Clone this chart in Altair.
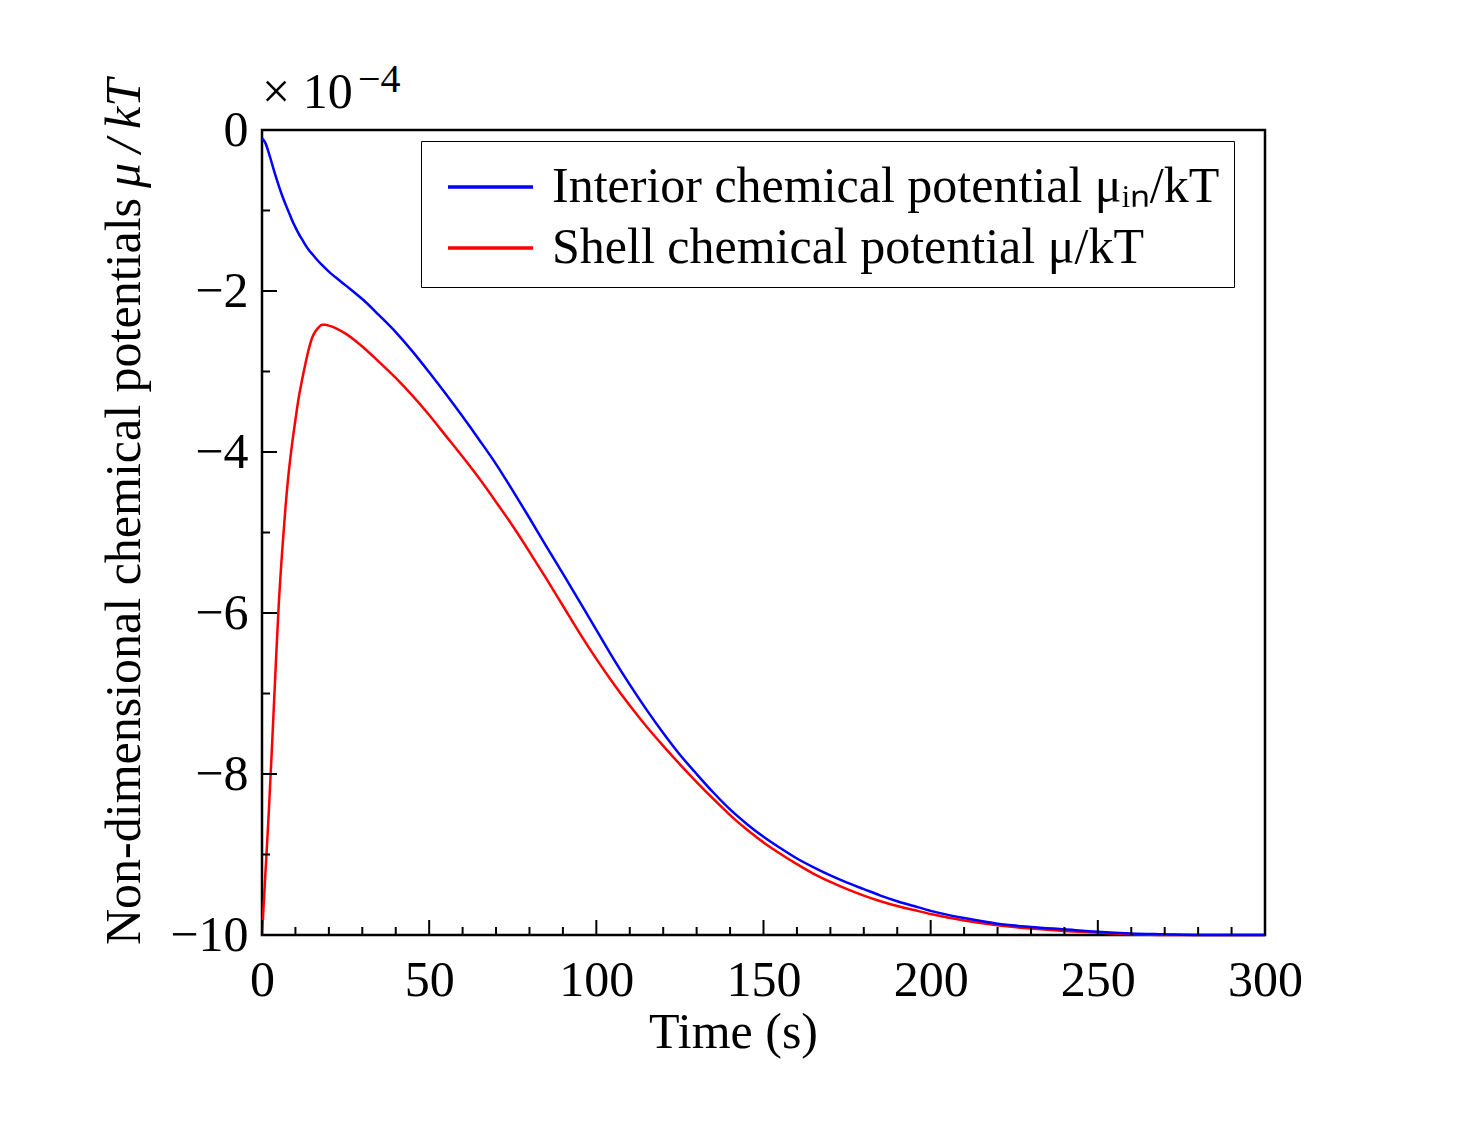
import altair as alt
import pandas as pd

# ---- data (units of 1e-4) ----
t_blue = [0, 1, 2, 3, 4, 5, 6, 7, 8, 9, 10, 11, 12, 13, 14, 15, 16, 18, 20, 22, 25, 28, 30,
          35, 40, 45, 50, 55, 60, 65, 70, 75, 80, 85, 90, 95, 100, 105, 110, 115, 120, 125,
          130, 135, 140, 145, 150, 155, 160, 165, 170, 175, 180, 185, 190, 195, 200, 210,
          220, 230, 240, 250, 260, 270, 280, 290, 300]
v_blue = [-0.10, -0.16, -0.28, -0.42, -0.56, -0.69, -0.81, -0.92, -1.02, -1.12, -1.21, -1.29,
          -1.36, -1.43, -1.49, -1.54, -1.59, -1.68, -1.76, -1.83, -1.93, -2.03, -2.10,
          -2.30, -2.51, -2.75, -3.01, -3.28, -3.56, -3.85, -4.15, -4.48, -4.82, -5.17, -5.51,
          -5.86, -6.21, -6.56, -6.89, -7.20, -7.49, -7.76, -8.00, -8.23, -8.44, -8.62, -8.78,
          -8.92, -9.05, -9.16, -9.26, -9.35, -9.43, -9.51, -9.58, -9.64, -9.70, -9.79,
          -9.86, -9.90, -9.93, -9.96, -9.98, -9.99, -10.0, -10.0, -10.0]

t_red = [0, 1, 2, 3, 4, 5, 6, 7, 8, 9, 10, 11, 12, 13, 14, 15, 16, 17, 18, 19, 20, 22, 25, 28,
         30, 35, 40, 45, 50, 55, 60, 65, 70, 75, 80, 85, 90, 95, 100, 105, 110, 115, 120, 125,
         130, 135, 140, 145, 150, 155, 160, 165, 170, 175, 180, 185, 190, 195, 200, 210, 220,
         230, 240, 250, 260, 270, 280, 290, 300]
v_red = [-10.0, -9.25, -8.5, -7.65, -6.75, -5.9, -5.25, -4.7, -4.25, -3.9, -3.6, -3.32, -3.1,
         -2.9, -2.72, -2.58, -2.5, -2.45, -2.42, -2.42, -2.43, -2.46, -2.53, -2.62, -2.69,
         -2.88, -3.08, -3.30, -3.54, -3.80, -4.06, -4.33, -4.62, -4.92, -5.24, -5.57, -5.91,
         -6.25, -6.57, -6.87, -7.15, -7.41, -7.65, -7.88, -8.10, -8.31, -8.51, -8.69, -8.85,
         -8.99, -9.12, -9.24, -9.34, -9.43, -9.51, -9.58, -9.64, -9.69, -9.74, -9.82, -9.88,
         -9.92, -9.95, -9.97, -9.99, -10.0, -10.0, -10.0, -10.0]

series_names = ["Interior chemical potential μᵢₙ/kT", "Shell chemical potential μ/kT"]
series_colors = ["#0000ff", "#ff0000"]

x_major = [0, 50, 100, 150, 200, 250, 300]
x_minor = [10, 20, 30, 40, 60, 70, 80, 90, 110, 120, 130, 140, 160, 170, 180, 190,
           210, 220, 230, 240, 260, 270, 280, 290]
y_major = [0, -2, -4, -6, -8, -10]
y_minor = [-1, -3, -5, -7, -9]

W, H = 1003, 805
FONT = "Liberation Serif"

blue_df = pd.DataFrame({"t": t_blue, "v": v_blue, "series": series_names[0]})
red_df = pd.DataFrame({"t": t_red, "v": v_red, "series": series_names[1]})

xscale = alt.Scale(domain=[0, 300], nice=False, zero=False)
yscale = alt.Scale(domain=[-10, 0], nice=False, zero=False)
xaxis = alt.Axis(values=x_major, ticks=False, tickSize=0, domain=False, grid=False,
                 labelFontSize=50, labelFont=FONT, labelColor="black", labelPadding=20,
                 titleFontSize=50, titleFont=FONT, titleFontWeight="normal", titleColor="black",
                 titlePadding=2, titleX=471, titleAlign="center", labelFlush=False)
yaxis = alt.Axis(values=y_major, ticks=False, tickSize=0, domain=False, grid=False,
                 labelFontSize=50, labelFont=FONT, labelColor="black", labelPadding=14,
                 title=None, labelFlush=False)

color = alt.Color(
    "series:N",
    scale=alt.Scale(domain=series_names, range=series_colors),
    legend=alt.Legend(
        orient="none", legendX=159, legendY=11, title=None,
        symbolType="M-0.633,0H2.2", symbolSize=3600, symbolStrokeWidth=3.5,
        labelFontSize=50, labelFont=FONT, labelColor="black", labelOffset=53,
        labelLimit=0, padding=14, strokeColor="black", fillColor="white",
    ),
)

def line_layer(df):
    return alt.Chart(df).mark_line(strokeWidth=2.5, interpolate="monotone").encode(
        x=alt.X("t:Q", scale=xscale, axis=xaxis, title="Time (s)"),
        y=alt.Y("v:Q", scale=yscale, axis=yaxis),
        color=color,
    )

red_line = line_layer(red_df)
blue_line = line_layer(blue_df)

def xtick_layer(vals, length):
    return alt.Chart(pd.DataFrame({"t": vals})).mark_rule(color="black", strokeWidth=2).encode(
        x=alt.X("t:Q", scale=xscale, axis=xaxis, title="Time (s)"),
        y=alt.value(H - length), y2=alt.value(H),
    )

def ytick_layer(vals, length):
    return alt.Chart(pd.DataFrame({"v": vals})).mark_rule(color="black", strokeWidth=2).encode(
        y=alt.Y("v:Q", scale=yscale, axis=yaxis),
        x=alt.value(0), x2=alt.value(length),
    )

text_df = pd.DataFrame({"a": ["× 10"], "b": ["−4"],
                        "c": ["Non-dimensional chemical potentials"],
                        "d": ["μ\u2009/\u2009kT"]})
mult_main = alt.Chart(text_df).mark_text(font=FONT, fontSize=50, align="left",
                                         baseline="alphabetic", color="black").encode(
    text="a:N", x=alt.value(0), y=alt.value(-22))
mult_sup = alt.Chart(text_df).mark_text(font=FONT, fontSize=40, align="left",
                                        baseline="alphabetic", color="black").encode(
    text="b:N", x=alt.value(96), y=alt.value(-38))
ytitle_a = alt.Chart(text_df).mark_text(font=FONT, fontSize=50, align="left", angle=270,
                                        baseline="alphabetic", color="black").encode(
    text="c:N", x=alt.value(-122), y=alt.value(H + 10))
ytitle_b = alt.Chart(text_df).mark_text(font=FONT, fontSize=50, align="left", angle=270,
                                        baseline="alphabetic", color="black",
                                        fontStyle="italic").encode(
    text="d:N", x=alt.value(-122), y=alt.value(58))

chart = alt.layer(
    red_line, blue_line,
    xtick_layer(x_major, 15), xtick_layer(x_minor, 8),
    ytick_layer(y_major, 15), ytick_layer(y_minor, 8),
    mult_main, mult_sup, ytitle_a, ytitle_b,
).properties(
    width=W, height=H,
    autosize=alt.AutoSizeParams(type="none"),
    padding={"left": 254, "top": 122, "right": 190, "bottom": 180},
    background="white",
).configure_view(
    stroke="black", strokeWidth=2.5,
).configure_legend(
    rowPadding=4,
)

chart.save("out.html", embed_options={"renderer": "svg", "actions": False})
